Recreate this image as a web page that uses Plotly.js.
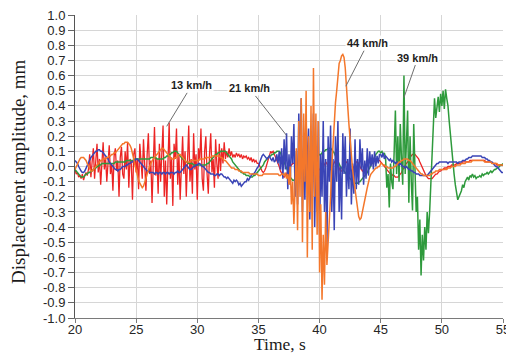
<!DOCTYPE html>
<html>
<head>
<meta charset="utf-8">
<script src="https://cdn.plot.ly/plotly-3.0.1.min.js"></script>
<style>html,body{margin:0;padding:0;background:#fff;}#chart{width:506px;height:355px;}</style>
</head>
<body>
<div id="chart"></div>
<script>
// sampling: first time 20 s, step 0.1 s (one row = one second)
const timeStart = 20;
const timeStep = 0.1;

// 13 km/h (red)
const red13 = [
-.02,-.05,-.04,-.07,-.06,-.08,-.05,-.09,-.06,-.04,
-.06,-.02,.08,-.07,.03,.12,-.08,.02,.15,-.04,
.05,-.12,.08,.16,-.02,.06,-.1,.03,.14,-.05,
.02,-.16,.07,.12,-.03,.04,-.2,.06,.13,-.05,
-.08,.1,-.02,.16,-.14,.05,.03,-.22,.08,.12,
-.04,.05,-.15,.15,.02,-.08,.18,-.02,-.16,.08,
.22,-.05,.04,-.24,.1,.26,-.06,.05,-.18,.15,
-.1,.08,.27,-.2,.04,-.25,.12,.29,-.08,.06,
-.26,.15,.05,.25,-.12,.08,-.22,.02,.2,-.05,
.1,-.2,.06,.27,-.1,.05,-.18,.22,-.02,.08,
-.22,.12,.04,.25,-.08,-.16,.1,.2,-.05,-.18,
.08,.22,-.04,.05,-.14,.18,.02,-.08,.15,-.03,
.12,.02,.16,.05,.1,.06,.12,.07,.1,.06,
.08,.06,.09,.07,.08,.06,.08,.05,.07,.06,
.07,.05,.06,.04,.06,.03,.05,.03,.04,.02,
.02,0,-.02,-.03,-.04,-.03,-.01,.02,.05,.08,
.1,.09,.1,.08,.06,.05,.02,0,-.03,-.05,
-.06,-.07,-.06,-.05,-.03,-.02,0,.01,.02,.02,
.02,.01,0,-.02,-.03,-.02,0,.01,.02,.01,
0,-.01,-.02,-.01,.01,.02,.02,.01,0,-.01,
-.02,-.03,-.02,0,.02,.03,.02,0,-.02,-.02,
-.01,.01,.03,.04,.03,.01,-.01,-.03,-.03,-.01,
.01,.02,.03,.02,0,-.02,-.03,-.02,0,.02,
.03,.03,.02,0,-.02,-.03,-.02,0,.02,.03,
.03,.03,.02,.02,.03,.04,.05,.05,.04,.04,
.03,.02,.01,0,-.01,-.02,-.03,-.04,-.05,-.05,
-.06,-.06,-.07,-.07,-.07,-.06,-.05,-.04,-.02,-.01,
.01,.02,.03,.04,.06,.07,.08,.08,.08,.07,
.06,.05,.03,.01,-.01,-.03,-.05,-.06,-.07,-.08,
-.08,-.08,-.08,-.07,-.06,-.05,-.05,-.04,-.03,-.03,
-.02,-.02,-.01,-.01,-.01,0,0,0,.01,.01,
.01,.01,.02,.02,.02,.02,.02,.03,.03,.03,
.03,.03,.03,.04,.04,.04,.04,.04,.04,.04,
.04,.04,.04,.04,.04,.04,.03,.03,.03,.03,
.03,.02,.02,.02,.02,.01,.01,.01,.01,.01,
.01];

// 21 km/h (blue)
const blue21 = [
.04,.03,.02,0,-.02,-.03,-.04,-.04,-.03,-.01,
.01,.03,.05,.06,.07,.08,.09,.1,.1,.11,
.11,.1,.1,.09,.08,.07,.06,.05,.03,.02,
.01,0,-.01,-.02,-.02,-.03,-.02,-.02,-.01,0,
0,0,.01,.01,.02,.02,.03,.03,.04,.04,
.05,.05,.04,.03,.02,.01,0,-.01,-.02,-.03,
-.03,-.04,-.04,-.04,-.04,-.05,-.04,-.04,-.05,-.04,
-.04,-.05,-.04,-.04,-.05,-.04,-.04,-.05,-.04,-.04,
-.04,-.05,-.04,-.04,-.03,-.04,-.04,-.03,-.02,-.01,
0,.01,0,-.01,-.02,-.02,-.01,0,0,.01,
.01,.02,.02,.01,0,0,-.01,-.02,-.03,-.04,
-.04,-.05,-.05,-.05,-.06,-.06,-.05,-.05,-.06,-.05,
-.05,-.06,-.07,-.07,-.08,-.07,-.08,-.09,-.1,-.11,
-.09,-.1,-.09,-.1,-.12,-.11,-.13,-.12,-.11,-.1,
-.1,-.08,-.09,-.07,-.06,-.05,-.05,-.04,-.02,-.01,
0,.03,.05,.07,.08,.07,.06,.05,.06,.07,
.05,.04,.06,.03,.04,.08,.02,.1,-.02,.12,
-.08,.18,-.02,.22,-.15,.08,-.12,.2,.02,.28,
-.2,.1,-.25,.35,-.05,.45,-.3,.12,-.22,.32,
-.1,.25,-.35,.05,-.2,.35,-.4,.1,-.3,.3,
-.45,.08,-.2,.3,-.3,.05,-.53,.2,-.1,.27,
-.3,.05,-.42,.2,-.1,.3,-.3,0,-.35,.22,
-.05,.2,-.2,.05,-.15,.25,-.25,.02,-.18,.18,
-.15,.05,-.12,.18,-.02,.12,-.12,.04,-.08,.12,
-.06,.1,0,.08,-.02,.1,0,.07,.02,.08,
.08,.06,.09,.05,.07,.06,.05,.04,.05,.03,
.04,.03,.02,.03,.02,.01,.02,.01,0,0,
-.01,0,-.01,-.02,-.02,-.03,-.03,-.04,-.04,-.05,
-.05,-.05,-.06,-.06,-.06,-.06,-.06,-.06,-.06,-.05,
-.04,-.03,-.02,-.01,0,.01,.02,.02,.03,.03,
.03,.03,.03,.03,.03,.02,.03,.03,.03,.03,
.03,.03,.03,.02,.03,.03,.03,.04,.04,.04,
.05,.05,.06,.06,.06,.07,.07,.07,.07,.07,
.07,.07,.07,.06,.06,.06,.05,.05,.04,.04,
.03,.03,.02,.01,0,0,-.01,-.02,-.03,-.04,
-.04];

// 44 km/h (orange)
const orange44 = [
-.02,0,.02,.04,.05,.06,.06,.06,.05,.04,
.02,0,-.02,-.03,-.03,-.02,-.01,0,.01,.02,
.03,.04,.04,.05,.05,.05,.06,.06,.07,.07,
.08,.08,.09,.09,.1,.11,.12,.13,.14,.15,
.15,.16,.16,.16,.15,.14,.12,.09,.05,.01,
-.03,-.06,-.09,-.11,-.13,-.14,-.13,-.11,-.08,-.05,
-.02,0,.02,.04,.05,.06,.07,.08,.09,.1,
.11,.12,.12,.11,.1,.09,.08,.07,.06,.05,
.05,.05,.06,.06,.07,.08,.08,.07,.06,.05,
.04,.03,.03,.03,.03,.04,.04,.04,.04,.04,
.04,.04,.05,.05,.05,.05,.05,.06,.06,.06,
.06,.06,.07,.07,.07,.07,.07,.07,.07,.06,
.06,.05,.04,.04,.03,.02,.01,0,-.01,-.01,
-.01,-.02,-.02,-.02,-.03,-.03,-.03,-.04,-.04,-.04,
-.04,-.04,-.04,-.05,-.05,-.05,-.05,-.05,-.05,-.05,
-.06,-.06,-.06,-.06,-.05,-.05,-.05,-.05,-.05,-.05,
-.05,-.05,-.05,-.05,-.05,-.05,-.05,-.06,-.06,-.05,
-.05,-.06,-.04,-.08,-.05,-.12,0,-.25,-.1,-.38,
-.15,.12,-.42,.3,-.2,.45,-.5,.35,-.1,.5,
-.6,.2,-.3,.4,-.55,.65,-.2,.35,-.45,.3,
-.7,-.25,-.88,-.45,-.78,-.3,-.65,-.52,-.4,-.2,
0,.15,.3,.42,.5,.6,.68,.7,.73,.74,
.72,.65,.55,.4,.28,.17,.08,-.02,-.09,-.16,
-.22,-.28,-.33,-.35,-.34,-.3,-.25,-.22,-.18,-.14,
-.1,-.07,-.05,-.04,-.03,-.02,-.01,-.01,0,0,
.02,.02,.01,.01,0,0,-.01,-.01,-.01,-.01,
-.01,0,0,.01,.02,.03,.03,.04,.04,.05,
.05,.05,.05,.04,.04,.03,.02,.01,0,-.01,
-.02,-.03,-.04,-.05,-.05,-.06,-.06,-.06,-.06,-.06,
-.06,-.05,-.05,-.04,-.04,-.03,-.03,-.03,-.02,-.02,
-.02,-.02,-.02,-.02,-.02,-.01,-.01,-.01,0,0,
0,0,.01,.01,.01,.01,.02,.02,.02,.02,
.03,.03,.03,.03,.03,.04,.04,.04,.04,.04,
.04,.04,.04,.04,.04,.03,.03,.03,.03,.03,
.03,.02,.02,.02,.02,.02,.01,.01,.01,.01,
.01];

// 39 km/h (green)
const green39 = [
-.02,-.03,-.04,-.05,-.06,-.07,-.07,-.07,-.06,-.05,
-.05,-.04,-.04,-.03,-.03,-.02,-.01,-.01,0,0,
.01,.01,.02,.02,.02,.02,.02,.02,.02,.02,
.02,.02,.02,.03,.03,.03,.03,.03,.03,.03,
.03,.03,.04,.04,.04,.04,.04,.04,.04,.05,
.05,.05,.05,.05,.05,.05,.05,.05,.05,.05,
.05,.05,.06,.06,.06,.06,.06,.05,.05,.05,
.05,.05,.05,.06,.06,.07,.07,.08,.08,.09,
.09,.1,.1,.1,.09,.08,.07,.06,.05,.05,
.04,.03,.03,.02,.02,.02,.02,.01,.01,.01,
.01,.01,.01,.01,.01,.01,.01,.01,.02,.02,
.03,.04,.05,.06,.07,.08,.08,.09,.09,.1,
.1,.1,.1,.1,.09,.08,.07,.06,.05,.03,
.02,.01,0,-.01,-.02,-.03,-.04,-.04,-.05,-.05,
-.06,-.06,-.06,-.07,-.07,-.07,-.06,-.06,-.05,-.04,
-.03,-.02,-.01,0,.01,.03,.04,.05,.06,.07,
.07,.08,.08,.09,.09,.1,.1,.1,.09,.07,
.04,.02,0,-.02,-.04,-.06,-.07,-.08,-.09,-.09,
-.08,-.07,-.06,-.04,-.03,-.02,-.01,0,0,.01,
.01,.02,.02,.03,.04,.05,.05,.06,.07,.07,
.08,.08,.09,.1,.1,.11,.11,.12,.12,.12,
.11,.1,.09,.07,.05,.03,.01,0,-.01,-.02,
-.03,-.04,-.05,-.06,-.07,-.08,-.09,-.1,-.1,-.11,
-.11,-.11,-.1,-.1,-.09,-.08,-.07,-.06,-.05,-.04,
-.02,-.01,.01,.03,.05,.07,.08,.09,.1,.1,
.09,.1,.08,.09,.05,-.14,-.05,-.27,.02,-.1,
-.15,.1,.37,-.05,.2,-.1,.28,.05,-.12,.6,
-.05,.15,.37,-.24,.2,-.1,-.29,.28,-.1,-.3,
-.2,-.55,-.35,-.72,-.45,-.62,-.4,-.55,-.3,-.44,
-.3,-.1,.1,.3,.45,.32,.4,.46,.36,.48,
.4,.5,.38,.51,.45,.4,.3,.2,.12,.05,
-.05,-.12,-.18,-.22,-.2,-.18,-.16,-.12,-.14,-.1,
-.08,-.07,-.09,-.06,-.07,-.05,-.07,-.06,-.08,-.07,
-.07,-.06,-.07,-.05,-.06,-.05,-.05,-.04,-.05,-.04,
-.03,-.04,-.03,-.02,-.02,-.01,-.01,0,.01,.01,
.02];

const xTickVals = [20, 25, 30, 35, 40, 45, 50, 55];
const xTickText = ['20', '25', '30', '35', '40', '45', '50', '55'];
const yTickVals = [1, .9, .8, .7, .6, .5, .4, .3, .2, .1, 0, -.1, -.2, -.3, -.4, -.5, -.6, -.7, -.8, -.9, -1];
const yTickText = ['1.0','0.9','0.8','0.7','0.6','0.5','0.4','0.3','0.2','0.1','0.0','-0.1','-0.2','-0.3','-0.4','-0.5','-0.6','-0.7','-0.8','-0.9','-1.0'];

// labels: text and the point of each series they point to
const labelTexts = ['13 km/h', '21 km/h', '44 km/h', '39 km/h'];
const labelX = [27.5, 37.3, 42.15, 46.9];
const labelY = [0.265, 0.205, 0.53, 0.455];
const xTitle = 'Time, s';
const yTitle = 'Displacement amplitude, mm';

function trace(y, color, w) {
  return {type: 'scatter', mode: 'lines', x0: timeStart, dx: timeStep, y: y,
          line: {color: color, width: w}, hoverinfo: 'skip', showlegend: false};
}

const data = [
  trace(red13, '#ec2424', 1.3),
  trace(green39, '#2e9a3c', 1.5),
  trace(blue21, '#3a44b6', 1.5),
  trace(orange44, '#f4772b', 1.5)
];

const labelOffsets = [[25, -41], [-37, -47], [22, -43], [14, -40]];
const annotations = labelTexts.map((t, i) => ({
  x: labelX[i], y: labelY[i], xref: 'x', yref: 'y', text: t,
  showarrow: true, arrowhead: 0, arrowwidth: 1, arrowcolor: '#6e6e6e',
  ax: labelOffsets[i][0], ay: labelOffsets[i][1], standoff: 0,
  bgcolor: 'rgba(255,255,255,0.9)', borderpad: 1,
  font: {family: 'Liberation Sans, Arial, sans-serif', size: 11, color: '#1e1e1e', weight: 'bold'}
}));

const titleFamily = 'Liberation Serif, Times New Roman, serif';
annotations.push({
  text: xTitle, xref: 'paper', yref: 'paper', x: 0.479, y: -0.121,
  xanchor: 'center', yanchor: 'bottom', showarrow: false, borderpad: 0,
  font: {family: titleFamily, size: 17.5, color: '#1a1a1a'}
});
annotations.push({
  text: yTitle, xref: 'paper', yref: 'paper', x: -0.131, y: 0.482,
  xanchor: 'center', yanchor: 'middle', showarrow: false, textangle: -90,
  font: {family: titleFamily, size: 19, color: '#1a1a1a'}
});

const tickFont = {family: 'Liberation Sans, Arial, sans-serif', size: 13, color: '#262626'};

const layout = {
  width: 506, height: 355,
  margin: {l: 75, r: 3, t: 15, b: 37},
  paper_bgcolor: '#ffffff', plot_bgcolor: '#ffffff',
  showlegend: false,
  xaxis: {
    range: [20, 55], tickmode: 'array', tickvals: xTickVals, ticktext: xTickText,
    showgrid: true, gridcolor: '#d6d6d6', gridwidth: 1, zeroline: false,
    showline: true, linecolor: '#7a7a7a', linewidth: 1,
    ticks: 'outside', ticklen: 4, tickcolor: '#7a7a7a',
    ticklabelstandoff: -5, ticklabeloverflow: 'allow',
    tickfont: tickFont
  },
  yaxis: {
    range: [-1, 1], tickmode: 'array', tickvals: yTickVals, ticktext: yTickText,
    showgrid: true, gridcolor: '#d6d6d6', gridwidth: 1, zeroline: false,
    showline: true, linecolor: '#555555', linewidth: 1,
    ticks: 'outside', ticklen: 6, tickcolor: '#666666',
    tickfont: tickFont
  },
  annotations: annotations
};

Plotly.newPlot('chart', data, layout, {staticPlot: true, displayModeBar: false});
</script>
</body>
</html>
